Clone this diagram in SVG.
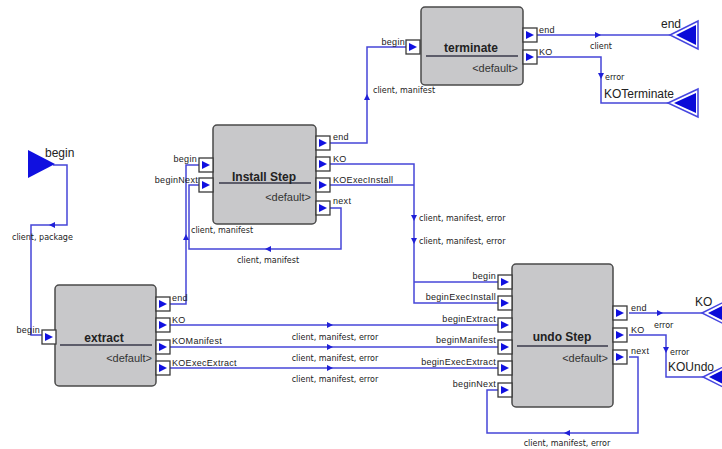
<svg xmlns="http://www.w3.org/2000/svg" width="722" height="449" viewBox="0 0 722 449">
<defs>
<style>
.box{fill:#c8c8ca;stroke:#4a4a4a;stroke-width:1.5}
.sep{stroke:#3a3a4a;stroke-width:1.5}
.port{fill:#ffffff;stroke:#3a3a3a;stroke-width:1.3}
.ptri{fill:#1010e0}
.wire{fill:none;stroke:#4646d8;stroke-width:1.5}
.arr{fill:#2020d8}
.title{font-family:"Liberation Sans",Arial,sans-serif;font-size:12px;font-weight:bold;fill:#222}
.def{font-family:"Liberation Sans",Arial,sans-serif;font-size:11px;fill:#333}
.pl{font-family:"Liberation Sans",Arial,sans-serif;font-size:9px;fill:#222;letter-spacing:0.3px}
.wl{font-family:"DejaVu Sans",Verdana,sans-serif;font-size:8px;fill:#222}
.tl{font-family:"Liberation Sans",Arial,sans-serif;font-size:12px;fill:#222}
.tout{fill:#ffffff;stroke:#4646e0;stroke-width:1.5}
.tin{fill:#0a0ad8}
</style>
<g id="p"><rect class="port" x="0" y="0" width="14" height="14"/><polygon class="ptri" points="3,3 11,7 3,11"/></g>
</defs>
<rect width="722" height="449" fill="#ffffff"/>

<g id="connectors">
<!-- Install end -> terminate begin -->
<path class="wire" d="M330,143 H367 V47 H406"/>
<polygon class="arr" points="364,100 367,94 370,100"/>
<text class="wl" x="373" y="93">client, manifest</text>
<!-- terminate end -> end -->
<path class="wire" d="M537,35 H670"/>
<polygon class="arr" points="595,32 601,35 595,38"/>
<text class="wl" x="590" y="49">client</text>
<!-- terminate KO -> KOTerminate -->
<path class="wire" d="M537,57 H601 V103 H668"/>
<polygon class="arr" points="598,73 604,73 601,79"/>
<text class="wl" x="605" y="80">error</text>
<!-- Install KO / KOExecInstall -> undo begin / beginExecInstall -->
<path class="wire" d="M330,164 H414 V303 H498"/>
<path class="wire" d="M330,185 H414"/>
<path class="wire" d="M414,282 H498"/>
<polygon class="arr" points="411,215 417,215 414,221"/>
<polygon class="arr" points="411,238 417,238 414,244"/>
<text class="wl" x="419" y="221">client, manifest, error</text>
<text class="wl" x="419" y="244">client, manifest, error</text>
<!-- Install next -> beginNext -->
<path class="wire" d="M330,208 H341 V249 H189 V185 H199"/>
<polygon class="arr" points="271,246 265,249 271,252"/>
<text class="wl" x="268" y="263" text-anchor="middle">client, manifest</text>
<!-- extract end -> Install begin -->
<path class="wire" d="M170,304 H186 V165 H199"/>
<polygon class="arr" points="183,240 186,234 189,240"/>
<text class="wl" x="191" y="233">client, manifest</text>
<!-- begin -> extract begin -->
<path class="wire" d="M53,165 H67 V225 H31 V335 H42"/>
<polygon class="arr" points="55,222 49,225 55,228"/>
<text class="wl" x="12" y="240">client, package</text>
<!-- extract KO ports -> undo -->
<path class="wire" d="M170,325 H498"/>
<path class="wire" d="M170,347 H498"/>
<path class="wire" d="M170,368 H498"/>
<polygon class="arr" points="327,322 333,325 327,328"/>
<polygon class="arr" points="327,344 333,347 327,350"/>
<polygon class="arr" points="327,365 333,368 327,371"/>
<text class="wl" x="335" y="340" text-anchor="middle">client, manifest, error</text>
<text class="wl" x="335" y="361" text-anchor="middle">client, manifest, error</text>
<text class="wl" x="335" y="382" text-anchor="middle">client, manifest, error</text>
<!-- undo end -> KO -->
<path class="wire" d="M629,313 H702"/>
<polygon class="arr" points="657,310 663,313 657,316"/>
<text class="wl" x="654" y="328">error</text>
<!-- undo KO -> KOUndo -->
<path class="wire" d="M629,335 H666 V377 H703"/>
<polygon class="arr" points="663,347 669,347 666,353"/>
<text class="wl" x="670" y="355">error</text>
<!-- undo next -> beginNext -->
<path class="wire" d="M629,357 H638 V433 H487 V390 H498"/>
<polygon class="arr" points="570,430 564,433 570,436"/>
<text class="wl" x="567" y="446" text-anchor="middle">client, manifest, error</text>
</g>

<g id="begin">
<polygon fill="#1010e0" points="28,150 55,164 28,178"/>
<text class="tl" x="45" y="157">begin</text>
</g>

<g id="end">
<polygon class="tout" points="670,35 698,21 698,49"/>
<polygon class="tin" points="676,35 696,25 696,45"/>
<text class="tl" x="661" y="28">end</text>
</g>

<g id="KOTerminate">
<polygon class="tout" points="668,103 698,89 698,117"/>
<polygon class="tin" points="674,103 696,93 696,113"/>
<text class="tl" x="604" y="98">KOTerminate</text>
</g>

<g id="KO">
<polygon class="tout" points="702,313 730,299 730,327"/>
<polygon class="tin" points="708,313 728,303 728,323"/>
<text class="tl" x="695" y="306">KO</text>
</g>

<g id="KOUndo">
<polygon class="tout" points="703,377 731,363 731,391"/>
<polygon class="tin" points="709,377 729,367 729,387"/>
<text class="tl" x="668" y="371">KOUndo</text>
</g>

<g id="terminate">
<rect class="box" x="421" y="7" width="102" height="78" rx="4"/>
<line class="sep" x1="426" y1="56" x2="518" y2="56"/>
<text class="title" x="471" y="52" text-anchor="middle">terminate</text>
<text class="def" x="518" y="72" text-anchor="end">&lt;default&gt;</text>
<use href="#p" x="406" y="40"/>
<use href="#p" x="523" y="28"/>
<use href="#p" x="523" y="50"/>
<text class="pl" x="405" y="45" text-anchor="end">begin</text>
<text class="pl" x="539" y="33">end</text>
<text class="pl" x="539" y="55">KO</text>
</g>

<g id="install-step">
<rect class="box" x="213" y="125" width="103" height="99" rx="4"/>
<line class="sep" x1="219" y1="183" x2="311" y2="183"/>
<text class="title" x="264" y="181" text-anchor="middle">Install Step</text>
<text class="def" x="311" y="201" text-anchor="end">&lt;default&gt;</text>
<use href="#p" x="199" y="158"/>
<use href="#p" x="199" y="178"/>
<use href="#p" x="316" y="136"/>
<use href="#p" x="316" y="157"/>
<use href="#p" x="316" y="178"/>
<use href="#p" x="316" y="201"/>
<text class="pl" x="197" y="162" text-anchor="end">begin</text>
<text class="pl" x="198" y="183" text-anchor="end">beginNext</text>
<text class="pl" x="333" y="140">end</text>
<text class="pl" x="333" y="162">KO</text>
<text class="pl" x="333" y="183">KOExecInstall</text>
<text class="pl" x="333" y="204">next</text>
</g>

<g id="extract">
<rect class="box" x="55" y="285" width="101" height="101" rx="4"/>
<line class="sep" x1="60" y1="345" x2="152" y2="345"/>
<text class="title" x="104" y="342" text-anchor="middle">extract</text>
<text class="def" x="152" y="362" text-anchor="end">&lt;default&gt;</text>
<use href="#p" x="42" y="330"/>
<use href="#p" x="156" y="297"/>
<use href="#p" x="156" y="318"/>
<use href="#p" x="156" y="340"/>
<use href="#p" x="156" y="361"/>
<text class="pl" x="40" y="333" text-anchor="end">begin</text>
<text class="pl" x="172" y="301">end</text>
<text class="pl" x="172" y="323">KO</text>
<text class="pl" x="172" y="344">KOManifest</text>
<text class="pl" x="172" y="366">KOExecExtract</text>
</g>

<g id="undo-step">
<rect class="box" x="512" y="264" width="101" height="143" rx="4"/>
<line class="sep" x1="517" y1="346" x2="608" y2="346"/>
<text class="title" x="562" y="341" text-anchor="middle">undo Step</text>
<text class="def" x="608" y="362" text-anchor="end">&lt;default&gt;</text>
<use href="#p" x="498" y="275"/>
<use href="#p" x="498" y="296"/>
<use href="#p" x="498" y="318"/>
<use href="#p" x="498" y="340"/>
<use href="#p" x="498" y="361"/>
<use href="#p" x="498" y="383"/>
<use href="#p" x="613" y="306"/>
<use href="#p" x="613" y="328"/>
<use href="#p" x="613" y="350"/>
<text class="pl" x="496" y="279" text-anchor="end">begin</text>
<text class="pl" x="496" y="300" text-anchor="end">beginExecInstall</text>
<text class="pl" x="496" y="322" text-anchor="end">beginExtract</text>
<text class="pl" x="496" y="343" text-anchor="end">beginManifest</text>
<text class="pl" x="496" y="365" text-anchor="end">beginExecExtract</text>
<text class="pl" x="496" y="387" text-anchor="end">beginNext</text>
<text class="pl" x="631" y="311">end</text>
<text class="pl" x="631" y="333">KO</text>
<text class="pl" x="631" y="354">next</text>
</g>
</svg>
